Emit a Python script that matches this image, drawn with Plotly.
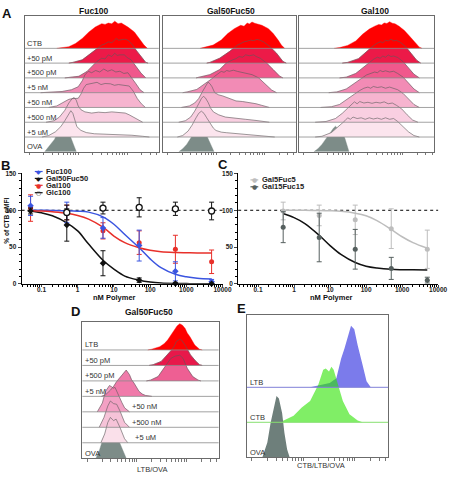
import math
import plotly.graph_objects as go

W, H = 454, 478
FONT = "Liberation Sans, Arial, sans-serif"

# ---------------- data ----------------
ROWS_A = ["CTB", "+50 pM", "+500 pM", "+5 nM", "+50 nM", "+500 nM", "+5 uM", "OVA"]
ROWS_D = ["LTB", "+50 pM", "+500 pM", "+5 nM", "+50 nM", "+500 nM", "+5 uM", "OVA"]
ROWS_E = ["LTB", "CTB", "OVA"]

# histogram outlines: (fluorescence position 0-100, height in row units), top row first
FUC100 = [
    [(24,0),(28,0.05),(33,0.11),(38,0.33),(43,0.67),(48,1.11),(52.7,1.44),(57.5,1.67),(60,1.62),(62.4,1.71),(65,1.66),(67.2,1.84),(69.7,1.67),(72.1,1.71),(77,1.44),(81.8,1.11),(85.4,0.67),(89,0.22),(91.5,0)],
    [(33,0),(36,0.05),(43,0.22),(47.8,0.56),(52.7,0.89),(57.5,1.22),(60,1.3),(62.4,1.44),(65,1.38),(68.4,1.67),(70,1.55),(72.1,1.56),(74.5,1.62),(77,1.56),(80.6,1.22),(83,0.89),(86.7,0.44),(90.3,0.05),(92,0)],
    [(30,0),(33.3,0.05),(40.5,0.11),(46.6,0.44),(50.2,0.78),(53.9,1.11),(57.5,1.33),(60,1.28),(62.4,1.56),(65,1.45),(67.2,1.67),(69,1.52),(70.9,1.56),(74.5,1.56),(76,1.4),(79.4,1.22),(83,0.78),(86.7,0.33),(90.3,0)],
    [(12,0),(20,0.03),(28,0.08),(35,0.2),(40,0.4),(43,0.8),(45,1.2),(47.5,1.45),(50,1.35),(53,1.5),(56,1.4),(59,1.6),(62,1.45),(65,1.55),(68,1.4),(71,1.45),(74,1.3),(77,1.35),(80,1.0),(83,0.6),(86,0.2),(89,0)],
    [(18,0),(24,0.1),(28,0.3),(33,0.55),(36,0.6),(40,0.62),(42,0.9),(44,1.3),(46,1.55),(50,1.6),(54,1.7),(57,1.55),(60,1.62),(64,1.6),(67,1.5),(70,1.55),(74,1.5),(78,1.45),(81,1.1),(84,0.6),(87,0.25),(90,0)],
    [(16,0),(22,0.1),(26,0.35),(30,0.8),(33,1.3),(35.5,1.6),(37,1.67),(38.5,1.5),(40,1.1),(42,0.85),(45,0.7),(50,0.62),(55,0.68),(60,0.65),(65,0.7),(70,0.66),(75,0.62),(78,0.5),(82,0.3),(85,0.1),(88,0)],
    [(13,0),(18,0.1),(23,0.35),(27,0.7),(30,1.1),(32.5,1.5),(34.5,1.78),(36,1.6),(37.5,1.1),(39,0.7),(42,0.45),(46,0.3),(52,0.22),(60,0.2),(70,0.16),(80,0.12),(88,0.05),(93,0)],
    [(15,0),(18.7,0.4),(22.3,0.84),(24.8,1.29),(27.2,1.62),(28.5,1.72),(29.6,1.62),(30.5,1.68),(32,1.4),(34.5,0.96),(36.9,0.4),(38.6,0)],
]
GAL50FUC50 = [
    [(28,0),(30.5,0.05),(37.8,0.22),(43.9,0.56),(48.8,1.0),(53.7,1.33),(58.5,1.56),(61,1.5),(63.4,1.71),(65,1.65),(67,1.78),(69,1.7),(70.7,1.67),(74.4,1.56),(79.3,1.33),(82.9,1.0),(86.6,0.56),(89,0.22),(91.5,0)],
    [(33,0),(35.4,0.05),(42.7,0.33),(50,0.78),(56.1,1.22),(59,1.35),(61,1.44),(64,1.5),(65.9,1.56),(68,1.52),(70.7,1.6),(73,1.55),(75.6,1.44),(80.5,1.11),(85.4,0.67),(90.2,0.11),(92.7,0)],
    [(25,0),(28,0.05),(35.4,0.22),(42.7,0.56),(47.6,1.0),(52.4,1.22),(55,1.3),(57.3,1.44),(60,1.4),(62.2,1.56),(65,1.5),(68.3,1.56),(70,1.45),(73.2,1.33),(78,1.0),(82.9,0.56),(87.8,0.11),(90.2,0)],
    [(15,0),(18.3,0.05),(25.6,0.22),(32.9,0.67),(37,0.95),(39,1.11),(41,1.25),(43.9,1.44),(46,1.38),(48,1.5),(50,1.45),(53,1.52),(56.1,1.44),(59,1.38),(62.2,1.33),(65,1.3),(67,1.22),(72,1.0),(76.8,0.56),(81.7,0.18),(85.4,0)],
    [(14,0),(20,0.1),(24,0.3),(27,0.6),(30,1.1),(32,1.45),(34,1.71),(35.5,1.6),(37,1.4),(39,1.0),(42,0.85),(45,0.78),(50,0.62),(55,0.44),(60,0.4),(65,0.35),(70,0.25),(74,0.15),(77,0.05),(80,0)],
    [(12,0),(17,0.1),(21,0.35),(24,0.75),(27,1.25),(29,1.6),(30.5,1.75),(32,1.65),(34,1.35),(36,0.95),(38,0.7),(42,0.5),(47,0.35),(55,0.25),(62,0.2),(70,0.12),(76,0.05),(80,0)],
    [(11,0),(15,0.1),(19,0.4),(22,0.8),(25,1.3),(27,1.6),(29,1.75),(31,1.6),(33,1.3),(35.4,1.0),(38,0.6),(40,0.44),(44,0.33),(48,0.29),(55,0.24),(62,0.2),(70,0.14),(79,0.07),(84,0)],
    [(12,0),(15,0.2),(18,0.5),(21,0.95),(23.5,1.35),(25.5,1.65),(26.8,1.75),(28,1.62),(29.5,1.7),(31,1.5),(33,1.1),(35,0.6),(37,0.25),(38.5,0)],
]
GAL100 = [
    [(26,0),(30,0.05),(36,0.2),(42,0.5),(47,0.95),(52,1.3),(56,1.5),(59,1.62),(61,1.58),(63,1.72),(65,1.68),(67,1.8),(69,1.7),(71,1.66),(74,1.5),(78,1.2),(82,0.8),(86,0.35),(89,0.08),(91,0)],
    [(32,0),(36,0.05),(44,0.3),(50,0.8),(54,1.1),(57,1.3),(60,1.45),(62,1.38),(64,1.55),(66,1.5),(68,1.62),(70,1.5),(72,1.55),(75,1.4),(79,1.1),(83,0.65),(87,0.2),(90,0)],
    [(30,0),(35,0.05),(42,0.3),(48,0.75),(52,1.05),(55,1.25),(58,1.4),(60,1.33),(62,1.48),(64,1.4),(66,1.55),(68,1.45),(70,1.48),(73,1.38),(77,1.1),(81,0.7),(85,0.25),(89,0)],
    [(22,0),(28,0.05),(35,0.25),(41,0.6),(46,0.95),(50,1.2),(53,1.3),(56,1.4),(58,1.35),(60,1.5),(62,1.42),(64,1.48),(67,1.4),(70,1.45),(73,1.3),(77,1.05),(81,0.65),(85,0.25),(89,0)],
    [(16,0),(24,0.05),(30,0.2),(36,0.55),(41,0.9),(45,1.15),(48,1.3),(51,1.38),(53,1.3),(55,1.42),(58,1.35),(61,1.4),(64,1.3),(67,1.38),(70,1.3),(73,1.2),(77,0.95),(81,0.55),(85,0.2),(89,0)],
    [(12,0),(20,0.05),(27,0.25),(32,0.6),(36,0.95),(39,1.2),(41,1.38),(43,1.25),(45,1.4),(48,1.3),(51,1.35),(54,1.28),(57,1.35),(60,1.3),(63,1.38),(66,1.25),(69,1.3),(72,1.15),(76,0.9),(80,0.5),(84,0.15),(88,0)],
    [(12,0),(17,0.05),(24,0.3),(30,0.75),(34,1.1),(36,1.3),(38,1.2),(40,1.35),(43,1.25),(46,1.3),(49,1.2),(52,1.3),(55,1.22),(58,1.28),(61,1.2),(64,1.3),(67,1.2),(70,1.25),(73,1.05),(77,0.7),(81,0.35),(85,0.1),(89,0)],
    [(11,0),(14,0.2),(17,0.5),(20,0.9),(23,1.3),(25.5,1.6),(27,1.73),(28.5,1.6),(30,1.65),(32,1.35),(34,0.9),(35.5,0.45),(37,0)],
]
D_GAL50FUC50 = [
    [(48,0),(50.9,0.05),(56.8,0.21),(60,0.4),(62.6,0.64),(65,0.95),(67.3,1.28),(69.5,1.55),(71.5,1.7),(73.5,1.6),(75.5,1.38),(77,1.1),(79,0.85),(82.5,0.32),(86,0.05),(88,0)],
    [(49,0),(52,0.05),(57.9,0.26),(62.6,0.68),(65,0.95),(67.3,1.22),(69,1.55),(71.5,1.7),(73,1.62),(75.5,1.3),(77,1.05),(79.4,0.68),(83,0.3),(86,0.05),(88,0)],
    [(47,0),(50,0.05),(55.6,0.28),(60,0.81),(64.9,1.45),(68,1.6),(71.5,1.66),(74,1.45),(77,0.81),(81,0.28),(85,0.05),(87,0)],
    [(14,0),(17,0.1),(20.6,0.4),(23,0.65),(25.2,0.96),(27.5,1.2),(29.9,1.49),(32.2,1.7),(34.6,1.4),(36,1.1),(38,0.85),(40,0.5),(41.6,0.32),(44,0.15),(46.3,0.06),(51,0)],
    [(11,0),(14.7,0.57),(17,1.32),(18.5,1.55),(19.9,1.7),(21.5,1.62),(22.9,1.53),(24,1.58),(25.2,1.32),(27.6,0.89),(29,0.6),(31,0.26),(33,0.08),(34.6,0)],
    [(12.4,0),(15.9,0.64),(18.7,1.38),(20.6,1.7),(22.9,1.53),(25.2,1.49),(27.6,1.06),(31,0.32),(34.6,0)],
    [(13.6,0),(16.4,0.57),(18.7,1.32),(20.6,1.64),(22.9,1.43),(24.8,1.53),(27.6,1.0),(31,0.26),(33.4,0)],
    [(10,0),(12.4,0.47),(15.4,1.32),(18.2,1.7),(20.6,1.64),(24,1.53),(26.4,1.21),(29.9,0.47),(32.2,0)],
]
E_HIST = [
    [(44.7,0),(51.6,0.06),(58.6,0.12),(63.3,0.26),(66.7,0.82),(69,1.1),(71.4,1.48),(73.7,1.76),(76,1.66),(78.4,1.2),(81.9,0.64),(84.7,0.17),(87.7,0)],
    [(19.1,0),(26,0.05),(33,0.19),(38.8,0.42),(44.7,0.61),(50.5,1.07),(54,1.5),(55.8,1.54),(58.1,1.45),(59.8,1.59),(61.4,1.5),(64.4,1.07),(67.9,0.61),(72.6,0.23),(78.4,0.05),(81.9,0)],
    [(10.9,0),(14.4,0.42),(16.7,0.98),(19.1,1.45),(20.9,1.75),(22.6,1.68),(24.9,1.26),(26.5,0.7),(28.4,0.23),(30.2,0)],
]

A_FILLS = ["#FF0000", "#EC1A48", "#F0588C", "#F28BB5", "#F6B4CF", "#F9CFE1", "#FCE5EE", "#7D8C88"]
D_FILLS = ["#FF0000", "#E8184A", "#EE5F93", "#F07AAA", "#F3A0C4", "#F6C3D8", "#FAE0EA", "#7D8C88"]

# dose response (panel B)
DOSES_B = [0.05, 0.5, 5, 50, 500, 5000]
FUC100_Y = [106, 97, 76, 52, 17, 3]
FUC100_E = [13, 14, 14, 21, 13, 3]
GAL50FUC50_Y = [99, 80, 28, 5, 0.5, 0.2]
GAL50FUC50_E = [4, 22, 17, 3, 1, 0.5]
GAL100_Y = [103, 97, 72, 56, 47, 30]
GAL100_E = [18, 10, 11, 16, 19, 16]
DOSES_GLC = [0.5, 5, 50, 500, 5000]
GLC100_Y = [97, 103, 104, 102, 99]
GLC100_E = [10, 8, 13, 9, 12]
FIT_X_B = [0.05, 0.1, 0.2, 0.5, 1, 2, 5, 10, 20, 50, 100, 200, 500, 1000, 2000, 5000]
FIT_FUC100 = [100, 100, 99.8, 99.4, 98.8, 97.5, 91, 81, 67, 49, 34, 22, 13, 9.5, 7.5, 6.5]
FIT_GAL50FUC50 = [99, 96.5, 92.5, 83, 72, 54, 32, 20, 10.5, 5, 2.5, 1.2, 0.5, 0.3, 0.1, 0]
FIT_GAL100 = [99.5, 99, 98, 96, 93, 88, 77, 65, 56, 49, 45.5, 43.5, 42.5, 42.2, 42, 42]

# panel C
DOSES_C = [0.5, 5, 50, 500, 5000]
GAL5FUC5_Y = [99, 93, 87, 75, 47]
GAL5FUC5_E = [12, 14, 20, 27, 26]
GAL15FUC15_Y = [77, 63, 47, 21, 5]
GAL15FUC15_E = [21, 33, 27, 15, 4]
FIT_X_C = [0.5, 1, 2, 5, 10, 20, 50, 100, 200, 500, 1000, 2000, 5000]
FIT_GAL5FUC5 = [100, 100, 99.9, 99.7, 99.3, 98.5, 96, 92.5, 86, 74, 64, 56, 48.5]
FIT_GAL15FUC15 = [95.5, 90, 82, 66, 52, 40, 29, 24, 21.5, 19.7, 19.2, 19, 18.8]

X_TICKS = [0.1, 1, 10, 100, 1000, 10000]
X_TICKTEXT = ["0.1", "1", "10", "100", "1000", "10000"]
Y_TICKS = [0, 50, 100, 150]

BLUE, RED, BLACK = "#3B55E0", "#E8302A", "#111111"
LGREY, DGREY = "#BDBDBD", "#56605F"

# ---------------- layout helpers ----------------
def xd(p0, p1):
    return [p0 / W, p1 / W]

def yd(top, bottom):
    return [1 - bottom / H, 1 - top / H]

def names(i):
    return ("x" if i == 1 else f"x{i}", "y" if i == 1 else f"y{i}")

def keys(i):
    return ("xaxis" if i == 1 else f"xaxis{i}", "yaxis" if i == 1 else f"yaxis{i}")

def flow_ticks():
    vals = []
    for d0 in (3.5, 40, 76.5):
        for k in range(1, 10):
            v = d0 + 36.5 * math.log10(k)
            if v <= 99.5:
                vals.append(v)
    return vals

fig = go.Figure()
layout = dict(width=W, height=H, margin=dict(l=0, r=0, t=0, b=0),
              paper_bgcolor="white", plot_bgcolor="white", showlegend=False,
              font=dict(family=FONT, size=8, color="#222"))
shapes, annos = [], []

BOXES = {
    1: ((25, 162), (12, 150), 15.0),
    2: ((166, 302), (12, 150), 15.0),
    3: ((305, 443), (12, 150), 15.0),
    6: ((84, 223), (323, 461), 15.7),
    7: ((252, 396), (316, 460), 35.5),
}
for i, ((x0, x1), (t, b), sp) in BOXES.items():
    kx, ky = keys(i)
    xa, ya = names(i)
    layout[kx] = dict(domain=xd(x0, x1), anchor=ya, range=[0, 100], showline=True, mirror=True,
                      linecolor="#6b6b6b", linewidth=1, ticks="outside", ticklen=2.5,
                      tickwidth=0.6, tickcolor="#777", tickmode="array", tickvals=flow_ticks(),
                      showticklabels=False, showgrid=False, zeroline=False, fixedrange=True)
    layout[ky] = dict(domain=yd(t, b), anchor=xa, range=[0, (b - t) / sp], showline=True, mirror=True,
                      linecolor="#6b6b6b", linewidth=1, ticks="", showticklabels=False,
                      showgrid=False, zeroline=False, fixedrange=True)


def add_hist(i, curves, fills, outline=True):
    xa, ya = names(i)
    n = len(curves)
    for r in reversed(range(n)):
        b = n - 1 - r
        fig.add_trace(go.Scatter(x=[p[0] for p in curves[r]], y=[b + p[1] for p in curves[r]],
                                 mode="lines", fill="toself", fillcolor=fills[r],
                                 line=dict(width=0.4, color=fills[r]), xaxis=xa, yaxis=ya,
                                 hoverinfo="skip"))
    for r in range(n):
        b = n - 1 - r
        if b > 0:
            shapes.append(dict(type="line", xref=f"{xa} domain", yref=ya, x0=0, x1=1, y0=b, y1=b,
                               line=dict(color="#8a8a8a", width=0.8), layer="above"))
        if outline and 0 < r < n - 1:
            fig.add_trace(go.Scatter(x=[p[0] for p in curves[r]], y=[b + p[1] for p in curves[r]],
                                     mode="lines", line=dict(width=0.6, color="#5a5a5a"),
                                     xaxis=xa, yaxis=ya, hoverinfo="skip"))


add_hist(1, FUC100, A_FILLS)
add_hist(2, GAL50FUC50, A_FILLS)
add_hist(3, GAL100, A_FILLS)
add_hist(6, D_GAL50FUC50, D_FILLS)

# panel E (LTB first, CTB translucent green over it, then OVA)
xa, ya = names(7)
E_FILLS = ["#7B7BEB", "rgba(43,227,0,0.6)", "#6E7F7B"]
for r in [0, 1, 2]:
    b = 2 - r
    fig.add_trace(go.Scatter(x=[p[0] for p in E_HIST[r]], y=[b + p[1] for p in E_HIST[r]],
                             mode="lines", fill="toself", fillcolor=E_FILLS[r],
                             line=dict(width=0), xaxis=xa, yaxis=ya, hoverinfo="skip"))
for b, c in [(2, "#8080D8"), (1, "#86E070")]:
    shapes.append(dict(type="line", xref=f"{xa} domain", yref=ya, x0=0, x1=1, y0=b, y1=b,
                       line=dict(color=c, width=1), layer="above"))

# row labels
def row_label(i, text, xv, b, size=7.5):
    xa, ya = names(i)
    annos.append(dict(x=xv, y=b, xref=xa, yref=ya, text=text, showarrow=False,
                      xanchor="left", yanchor="bottom", yshift=-1.5,
                      font=dict(size=size, color="#333", family=FONT)))

for r, lab in enumerate(ROWS_A):
    row_label(1, lab, 0.5, 7 - r)
for r, lab in enumerate(ROWS_D):
    xv = 35 if lab in ("+50 nM", "+500 nM") else (37 if lab == "+5 uM" else 0.5)
    row_label(6, lab, xv, 7 - r)
for r, lab in enumerate(ROWS_E):
    row_label(7, lab, 0.5, 2 - r)

# ---------------- panels B and C ----------------
def minor_vals():
    v = []
    for e in range(-2, 4):
        for k in range(2, 10):
            v.append(k * 10 ** e)
    return v

for i, (x0, x1), (t, b) in [(4, (22, 227), (172, 284)), (5, (243, 447), (172, 284))]:
    kx, ky = keys(i)
    xa, ya = names(i)
    layout[kx] = dict(domain=xd(x0, x1), anchor=ya, type="log", range=[-1.55, 4.0], showline=True,
                      linecolor="black", linewidth=1, ticks="outside", ticklen=2.5, tickwidth=1,
                      tickmode="array", tickvals=X_TICKS, ticktext=X_TICKTEXT,
                      tickfont=dict(size=6.5, family=FONT, weight="bold", color="#222"),
                      minor=dict(ticks="outside", ticklen=1.8, tickwidth=0.7, tickcolor="black",
                                 tickmode="array", tickvals=minor_vals(), showgrid=False),
                      showgrid=False, zeroline=False, fixedrange=True, ticklabelstandoff=-3)
    layout[ky] = dict(domain=yd(t, b), anchor=xa, range=[0, 150], showline=True, linecolor="black",
                      linewidth=1, ticks="outside", ticklen=3, tickwidth=1, tickmode="array",
                      tickvals=Y_TICKS, tickfont=dict(size=6.5, family=FONT, weight="bold", color="#222"),
                      minor=dict(ticks="outside", ticklen=1.8, tickwidth=0.7, tickcolor="black",
                                 dtick=10, showgrid=False),
                      showgrid=False, zeroline=False, fixedrange=True, ticklabelstandoff=0)
    shapes.append(dict(type="line", xref=f"{xa} domain", yref=ya, x0=0, x1=1, y0=100, y1=100,
                       line=dict(color="black", width=1, dash="dot"), layer="below"))

xa, ya = names(4)
for fx, fy, c in [(FIT_X_B, FIT_FUC100, BLUE), (FIT_X_B, FIT_GAL50FUC50, BLACK), (FIT_X_B, FIT_GAL100, RED)]:
    fig.add_trace(go.Scatter(x=fx, y=fy, mode="lines", line=dict(color=c, width=1.5, shape="spline"),
                             xaxis=xa, yaxis=ya, hoverinfo="skip"))
for dx, dy, de, c, sym in [(DOSES_B, GAL100_Y, GAL100_E, RED, "circle"),
                            (DOSES_B, FUC100_Y, FUC100_E, BLUE, "diamond"),
                            (DOSES_B, GAL50FUC50_Y, GAL50FUC50_E, BLACK, "diamond"),
                            (DOSES_GLC, GLC100_Y, GLC100_E, BLACK, "circle")]:
    mk = dict(color=c, size=5, symbol=sym)
    if dy is GLC100_Y:
        mk = dict(color="white", size=6, symbol="circle", line=dict(color=BLACK, width=1.3))
    fig.add_trace(go.Scatter(x=dx, y=dy, mode="markers", marker=mk, cliponaxis=False,
                             error_y=dict(type="data", array=de, color=c, thickness=1, width=2.5),
                             xaxis=xa, yaxis=ya, hoverinfo="skip"))

xa, ya = names(5)
for fx, fy, c in [(FIT_X_C, FIT_GAL5FUC5, LGREY), (FIT_X_C, FIT_GAL15FUC15, BLACK)]:
    fig.add_trace(go.Scatter(x=fx, y=fy, mode="lines", line=dict(color=c, width=1.5, shape="spline"),
                             xaxis=xa, yaxis=ya, hoverinfo="skip"))
for dy, de, c in [(GAL5FUC5_Y, GAL5FUC5_E, LGREY), (GAL15FUC15_Y, GAL15FUC15_E, DGREY)]:
    fig.add_trace(go.Scatter(x=DOSES_C, y=dy, mode="markers",
                             marker=dict(color=c, size=5, symbol="circle"), cliponaxis=False,
                             error_y=dict(type="data", array=de, color=c, thickness=1, width=2.5),
                             xaxis=xa, yaxis=ya, hoverinfo="skip"))

# manual legends
def legend_row(px, py, color, glyph, name):
    shapes.append(dict(type="line", xref="paper", yref="paper", x0=(px - 4) / W, x1=(px + 4) / W,
                       y0=1 - py / H, y1=1 - py / H, line=dict(color=color, width=1.2)))
    annos.append(dict(x=px / W, y=1 - py / H, xref="paper", yref="paper", text=glyph,
                      showarrow=False, xanchor="center", yanchor="middle",
                      font=dict(size=6, color=color, family="DejaVu Sans")))
    annos.append(dict(x=(px + 5.5) / W, y=1 - py / H, xref="paper", yref="paper",
                      text=f"<b>{name}</b>", showarrow=False, xanchor="left", yanchor="middle",
                      font=dict(size=7.5, color="#222", family=FONT)))

legend_row(39.5, 170, BLUE, "◆", "Fuc100")
legend_row(39.5, 177, BLACK, "◆", "Gal50Fuc50")
legend_row(39.5, 184, RED, "●", "Gal100")
legend_row(39.5, 191.5, BLACK, "○", "Glc100")
legend_row(259.5, 178.5, LGREY, "●", "Gal5Fuc5")
legend_row(259.5, 185.5, DGREY, "●", "Gal15Fuc15")

# texts
def txt(px, py, text, size, bold=True, angle=0, color="#111"):
    t = f"<b>{text}</b>" if bold else text
    annos.append(dict(x=px / W, y=1 - py / H, xref="paper", yref="paper", text=t,
                      showarrow=False, xanchor="center", yanchor="middle", textangle=angle,
                      font=dict(size=size, color=color, family=FONT)))

txt(7, 10, "A", 13)
txt(6, 164, "B", 13)
txt(227, 163, "C", 13)
txt(77, 312, "D", 13)
txt(246, 309, "E", 13)
txt(96, 7, "Fuc100", 8.5)
txt(236, 7, "Gal50Fuc50", 8.5)
txt(383, 7, "Gal100", 8.5)
txt(152, 312.5, "Gal50Fuc50", 8.5)
txt(117, 298, "nM Polymer", 7.5)
txt(338, 298, "nM Polymer", 7.5)
txt(7, 220, "% of CTB gMFI", 6.5, angle=-90)
txt(156, 472, "LTB/OVA", 7.5, bold=False, color="#333")
txt(328, 468, "CTB/LTB/OVA", 7.5, bold=False, color="#333")

layout["shapes"] = shapes
layout["annotations"] = annos
fig.update_layout(**layout)
fig.write_html("out.html", config={"displayModeBar": False},
               post_script="document.body.style.margin='0px';document.body.style.padding='0px';")
